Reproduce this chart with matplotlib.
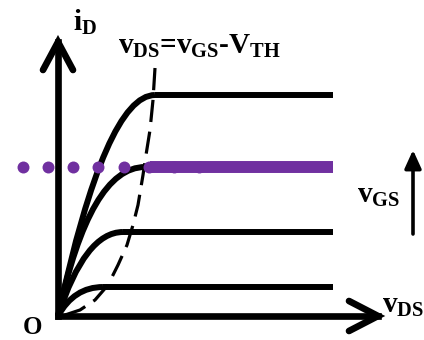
import matplotlib
matplotlib.use("Agg")
import matplotlib.pyplot as plt
from matplotlib.path import Path
from matplotlib.patches import PathPatch

plt.rcParams['font.family'] = ['Liberation Serif', 'DejaVu Serif']
plt.rcParams['font.weight'] = 'bold'
plt.rcParams['mathtext.fontset'] = 'custom'
plt.rcParams['mathtext.rm'] = 'Liberation Serif:bold'
plt.rcParams['mathtext.it'] = 'Liberation Serif:bold'
plt.rcParams['mathtext.bf'] = 'Liberation Serif:bold'
plt.rcParams['lines.scale_dashes'] = False

# ---- data (arbitrary units, origin at O) ----
sat_current = [221, 149, 84, 29]        # saturation i_D for each v_GS curve
knee_vds = [97, 87, 65, 45]             # v_DS where each curve saturates
ctrl_vds = [48, 32, 27, 16]             # Bezier control v_DS (curve shape)
highlight_idx = 1                        # curve highlighted in purple
vds_end = 275                            # right end of curves
# boundary v_DS = v_GS - V_TH (dashed)
boundary_vds = [97, 95, 92, 88, 85, 80, 75, 69, 60, 50, 37, 22, 7, 0]
boundary_id = [248, 216, 186, 161, 141, 111, 91, 71, 51, 31, 16, 6, 1, 0]
# dotted guide at highlighted level
dot_vds = [-35, -10, 15, 40, 66, 91, 116, 141]

PURPLE = '#7030A0'

fig = plt.figure(figsize=(4.24, 3.40), dpi=100)
ax = fig.add_axes([0, 0, 1, 1])
ax.set_xlim(-58, 366)
ax.set_ylim(-24, 316)
ax.axis('off')

LW_AX = 4.8
LW_C = 4.3

# axes with chevron arrowheads
ytip = 274
xtip = 320
ax.plot([0, 0], [0, ytip], color='black', lw=LW_AX, solid_capstyle='projecting', zorder=3)
ax.plot([0, xtip], [0, 0], color='black', lw=LW_AX, solid_capstyle='projecting', zorder=3)
ax.plot([-15, 0, 15], [ytip - 28, ytip, ytip - 28], color='black', lw=LW_AX,
        solid_capstyle='round', solid_joinstyle='miter', zorder=3)
ax.plot([xtip - 29, xtip, xtip - 29], [15, 0, -15], color='black', lw=LW_AX,
        solid_capstyle='round', solid_joinstyle='miter', zorder=3)

# output characteristic curves
for i, (isat, vk, vc) in enumerate(zip(sat_current, knee_vds, ctrl_vds)):
    path = Path([(0, 0), (vc, isat), (vk, isat)],
                [Path.MOVETO, Path.CURVE3, Path.CURVE3])
    ax.add_patch(PathPatch(path, fill=False, lw=LW_C, edgecolor='black',
                           capstyle='butt', zorder=4))
    if i == highlight_idx:
        ax.plot([vk + 5, vds_end], [isat, isat], color=PURPLE, lw=8.6,
                solid_capstyle='butt', zorder=6)
    else:
        ax.plot([vk, vds_end], [isat, isat], color='black', lw=LW_C,
                solid_capstyle='butt', zorder=4)

# boundary dashed curve
ax.plot(boundary_vds, boundary_id, color='black', lw=2.3,
        linestyle=(0, (16, 7)), zorder=5)

# purple dots
ax.plot(dot_vds, [sat_current[highlight_idx]] * len(dot_vds), 'o',
        color=PURPLE, ms=8.6, mec='none', zorder=7)

# v_GS increasing arrow
ax.annotate('', xy=(355, 166), xytext=(355, 82),
            arrowprops=dict(arrowstyle='-|>,head_length=0.55,head_width=0.25',
                            lw=2.6, color='black', mutation_scale=20,
                            shrinkA=0, shrinkB=0))

# texts
FS = 21
ax.text(60, 262, r'$\mathrm{v_{DS}}$=$\mathrm{v_{GS}}$-$\mathrm{V_{TH}}$',
        fontsize=FS, ha='left', va='baseline')
ax.text(15, 285, r'$\mathrm{i_{D}}$', fontsize=FS, ha='left', va='baseline')
ax.text(324, 3, r'$\mathrm{v_{DS}}$', fontsize=FS, ha='left', va='baseline')
ax.text(299, 113, r'$\mathrm{v_{GS}}$', fontsize=FS, ha='left', va='baseline')
ax.text(-35, -18, 'O', fontsize=18, ha='left', va='baseline')

fig.savefig('out.png', dpi=100)
